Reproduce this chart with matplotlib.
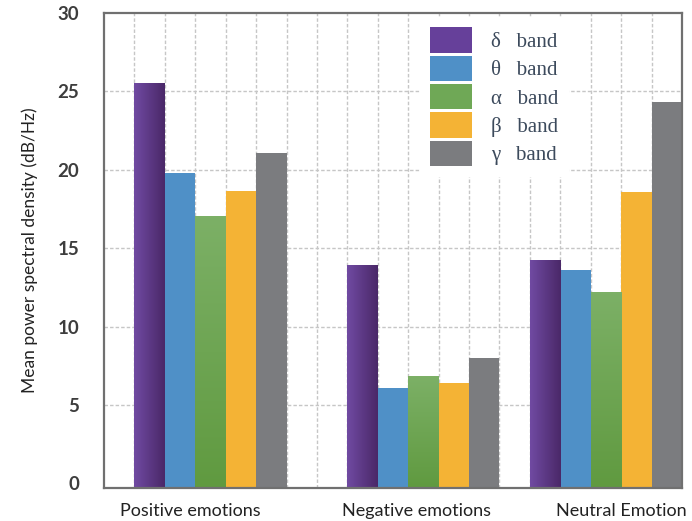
import matplotlib.pyplot as plt
import numpy as np
from matplotlib.patches import Patch

# mean PSD per emotion class and EEG band (dB/Hz)
emotions = ["Positive emotions", "Negative emotions", "Neutral Emotion"]
bands = ["δ", "θ", "α", "β", "γ"]
delta = [25.5, 13.9, 14.2]
theta = [19.8, 6.1, 13.6]
alpha = [17.05, 6.8, 12.2]
beta = [18.65, 6.4, 18.6]
gamma = [21.07, 8.0, 24.35]

# layout on a slot grid: one unit per bar, gridlines on the slot edges
n_slots = 19
group_start = [1, 8, 14]
label_pos = [2.83, 10.26, 17.0]
colors = ["#66409a", "#4f90c7", "#6fa856", "#f4b335", "#7b7c7f"]
ymin = -0.3


def gradient_bar(ax, x0, h, c0, c1, horizontal):
    n = 64
    t = np.linspace(0, 1, n)
    c0 = np.array(c0) / 255
    c1 = np.array(c1) / 255
    grad = c0[None, :] * (1 - t[:, None]) + c1[None, :] * t[:, None]
    if horizontal:
        img = grad[None, :, :]
    else:
        img = grad[:, None, :]
    ax.imshow(img, extent=(x0, x0 + 1, ymin, h), aspect="auto",
              origin="upper" if not horizontal else "lower",
              interpolation="bilinear", zorder=3)


def main():
    plt.rcParams["font.family"] = ["Lato", "DejaVu Sans"]
    fig = plt.figure(figsize=(6.92, 5.21), dpi=100)
    ax = fig.add_axes([104 / 692, 33 / 521, 578 / 692, 475 / 521])

    series = [delta, theta, alpha, beta, gamma]
    for b, vals in enumerate(series):
        for g, v in enumerate(vals):
            x0 = group_start[g] + b
            ax.bar(x0, v - ymin, width=1, bottom=ymin, align="edge",
                   color=colors[b], zorder=2, linewidth=0)
            if b == 0:
                # purple bars shade darker toward the right edge
                gradient_bar(ax, x0, v, (112, 74, 162), (74, 40, 104), True)
            elif b == 2:
                # green bars shade darker toward the bottom
                gradient_bar(ax, x0, v, (124, 176, 102), (96, 154, 64), False)

    ax.set_xlim(0, n_slots)
    ax.set_ylim(ymin, 30)

    for yv in range(5, 30, 5):
        ax.axhline(yv, color="#c6c6c6", lw=1, ls=(0, (2.5, 1.5)), zorder=1)
    for xv in range(1, n_slots):
        ax.axvline(xv, color="#c6c6c6", lw=1, ls=(0, (2.5, 1.5)), zorder=1)

    ax.set_yticks(range(0, 31, 5))
    ax.set_yticklabels([str(v) for v in range(0, 31, 5)],
                       fontsize=13.5, fontweight="bold", color="#3d3d3d")
    ax.set_xticks(label_pos)
    ax.set_xticklabels(emotions, fontsize=13, color="#222222")
    ax.tick_params(axis="y", length=0, pad=18)
    ax.tick_params(axis="x", length=0, pad=11)
    ax.set_ylabel("Mean power spectral density (dB/Hz)", fontsize=12.5,
                  color="#222222", labelpad=14)

    for s in ax.spines.values():
        s.set_color("#707070")
        s.set_linewidth(1.6)
        s.set_zorder(5)

    handles = [Patch(facecolor=c, edgecolor="none") for c in colors]
    labels = [f"{b}   band" for b in bands]
    leg = ax.legend(handles, labels, loc="upper left",
                    bbox_to_anchor=(316 / 578, 1 - 4 / 475),
                    prop={"family": "Liberation Serif", "size": 15},
                    handlelength=2.0, handleheight=1.5, labelspacing=0.14,
                    handletextpad=0.9, borderpad=0.5, borderaxespad=0,
                    frameon=True, fancybox=False, framealpha=1)
    leg.get_frame().set_edgecolor("none")
    leg.get_frame().set_facecolor("white")
    leg.set_zorder(6)
    for t in leg.get_texts():
        t.set_color("#3c4a5c")

    fig.savefig("out.png", dpi=100)


if __name__ == "__main__":
    main()
